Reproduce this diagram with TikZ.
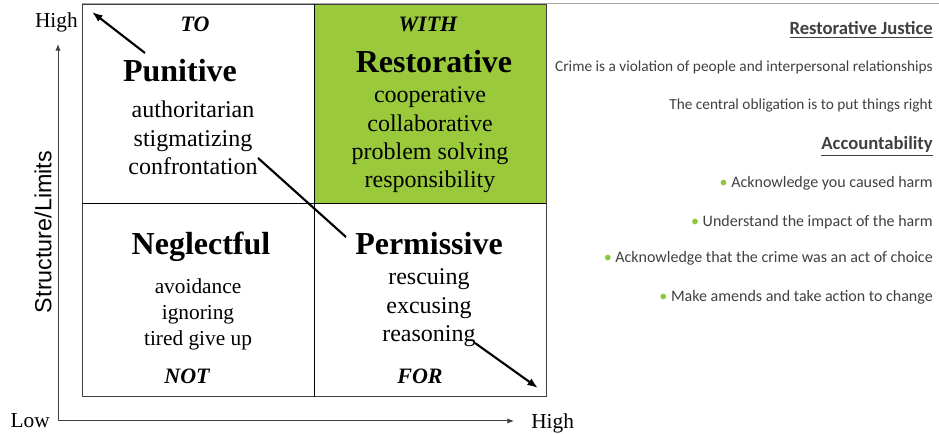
\documentclass[tikz,border=0pt]{standalone}
\usepackage{fontspec}
\setmainfont{Liberation Serif}
\newfontfamily\axisfont{Liberation Sans}
\newfontfamily\notefont{Carlito}
\usetikzlibrary{arrows.meta}

\definecolor{withgreen}{HTML}{9ACA3C}
\definecolor{bulletgreen}{HTML}{8DC63F}
\definecolor{notegray}{HTML}{404040}
\definecolor{gridgray}{HTML}{3F3F3F}

\tikzset{
  heading/.style={anchor=base, font=\fontsize{24}{28}\selectfont\bfseries},
  corner/.style={anchor=base, font=\fontsize{16.5}{20}\selectfont\bfseries\itshape},
  trait/.style={anchor=base, inner sep=0pt, font=\fontsize{18}{21}\selectfont},
  axislabel/.style={anchor=base, inner sep=0pt, font=\fontsize{16}{19}\selectfont},
  note/.style={anchor=base east, inner sep=0pt, text=notegray, font=\notefont\fontsize{11.5}{14}\selectfont},
  notehead/.style={note, font=\notefont\bfseries\fontsize{14}{17}\selectfont},
  pull/.style={line width=1.6pt, -{Latex[length=8pt,width=6pt]}},
  axisline/.style={gridgray, line width=0.75pt, -{Latex[length=5pt,width=4pt]}},
}

\begin{document}
\begin{tikzpicture}[x=0.75pt, y=-0.75pt]
    \useasboundingbox (0,0) rectangle (939,434);

    % Draw the quadrants
    \fill[withgreen] (314,4.5) rectangle (546,204);
    \draw[gray!70] (82,3) -- (939,3);
    \draw[gridgray, line width=0.75pt] (82,4.5) rectangle (546,397);
    \draw[black, line width=0.75pt] (314,4.5) -- (314,397);
    \draw[black, line width=0.75pt] (82,204) -- (546,204);

    % Axes and their labels
    \coordinate (origin) at (58,421);
    \coordinate (ytop) at (58,44);
    \coordinate (xend) at (514,421);
    \draw[axisline] (origin) -- (ytop);
    \draw[axisline] (origin) -- (xend);
    \node[axislabel, anchor=base east] (high-y) at (78,28) {High};
    \node[axislabel, anchor=base east] (low) at (50,428) {Low};
    \node[axislabel, anchor=base west] (high-x) at (531,429) {High};
    \node[rotate=90, font=\axisfont\fontsize{17.5}{20}\selectfont] (limits) at (43,232) {Structure/Limits};

    % Quadrant headings
    \node[corner] (to) at (195,32) {TO};
    \node[corner] (with) at (428,32) {WITH};
    \node[corner] (not) at (187,384) {NOT};
    \node[corner] (for) at (420,384) {FOR};
    \node[heading] (punitive) at (180,82) {Punitive};
    \node[heading] (restorative) at (434,73) {Restorative};
    \node[heading] (neglectful) at (201,255) {Neglectful};
    \node[heading] (permissive) at (429,255) {Permissive};

    % Traits in each quadrant
    \foreach \word [count=\i] in {authoritarian, stigmatizing, confrontation}
        \node[trait] (punitive-\i) at (193, 89.5+28.5*\i) {\word};
    \foreach \word [count=\i] in {cooperative, collaborative, problem solving, responsibility}
        \node[trait] (restorative-\i) at (430, 74.5+28.3*\i) {\word};
    \foreach \word [count=\i] in {avoidance, ignoring, tired give up}
        \node[trait, font=\fontsize{16}{19}\selectfont] (neglectful-\i) at (198, 268+26*\i) {\word};
    \foreach \word [count=\i] in {rescuing, excusing, reasoning}
        \node[trait] (permissive-\i) at (429, 256.5+28.5*\i) {\word};

    % Shift arrows
    \coordinate (to-start) at (145,53);
    \coordinate (to-end) at (92,12);
    \coordinate (cross-start) at (258,158);
    \coordinate (cross-end) at (346,237);
    \coordinate (for-start) at (475,343);
    \coordinate (for-end) at (538,388);
    \draw[pull] (to-start) -- (to-end);
    \draw[line width=1.6pt] (cross-start) -- (cross-end);
    \draw[pull] (for-start) -- (for-end);

    % Notes on the right
    \node[notehead] (justice) at (933,35) {\underline{Restorative Justice}};
    \node[note] (crime) at (933,72) {Crime is a violation of people and interpersonal relationships};
    \node[note] (central) at (933,110) {The central obligation is to put things right};
    \node[notehead] (account) at (933,150) {\underline{Accountability}};
    \foreach \point/\y [count=\i] in {Acknowledge you caused harm/188,
        Understand the impact of the harm/227,
        Acknowledge that the crime was an act of choice/263,
        Make amends and take action to change/302}
        \node[note, font=\notefont\fontsize{12}{14}\selectfont] (point-\i) at (933,\y) {\textcolor{bulletgreen}{•} \point};
\end{tikzpicture}
\end{document}
